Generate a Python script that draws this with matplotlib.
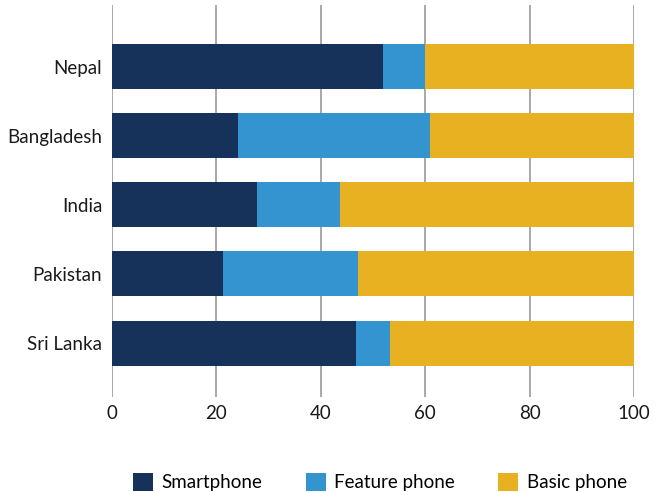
import numpy as np
import matplotlib
matplotlib.use("Agg")
from matplotlib import pyplot as plt

plt.rcParams['font.family'] = ['Lato', 'DejaVu Sans']

countries = ["Nepal", "Bangladesh", "India", "Pakistan", "Sri Lanka"]
smartphone = [52.0, 24.2, 27.8, 21.3, 46.8]
feature_phone = [8.0, 36.8, 15.9, 25.9, 6.5]
basic_phone = [40.0, 39.0, 56.3, 52.8, 46.7]

series = [
    ("Smartphone", smartphone, "#17325a"),
    ("Feature phone", feature_phone, "#3394cf"),
    ("Basic phone", basic_phone, "#e8b121"),
]

fig = plt.figure(figsize=(6.6, 4.92), dpi=100)
ax = fig.add_axes([112 / 660, 1 - 397 / 492, 522 / 660, 392 / 492])

# top row first
y = np.arange(len(countries))[::-1]
left = np.zeros(len(countries))
for name, vals, color in series:
    ax.barh(y, vals, left=left, height=0.65, color=color, label=name, zorder=3)
    left += np.array(vals)

ax.set_xlim(0, 100)
ax.set_ylim(-0.78, 4.89)
ax.set_xticks([0, 20, 40, 60, 80, 100])
ax.set_yticks(y)
ax.set_yticklabels(countries)
ax.grid(axis="x", color="#9a9a9a", linewidth=1.2, zorder=0)
for s in ax.spines.values():
    s.set_visible(False)
ax.tick_params(axis="both", length=0, labelsize=13.5, colors="#1a1a1a")
ax.tick_params(axis="y", pad=7)
ax.tick_params(axis="x", pad=6)

fig.legend(loc="center", bbox_to_anchor=(380 / 660, 1 - 482 / 492), ncol=3,
           frameon=False, fontsize=13.5, handlelength=1.07, handleheight=1.07,
           handletextpad=0.45, columnspacing=2.3)

fig.savefig("out.png", dpi=100)
